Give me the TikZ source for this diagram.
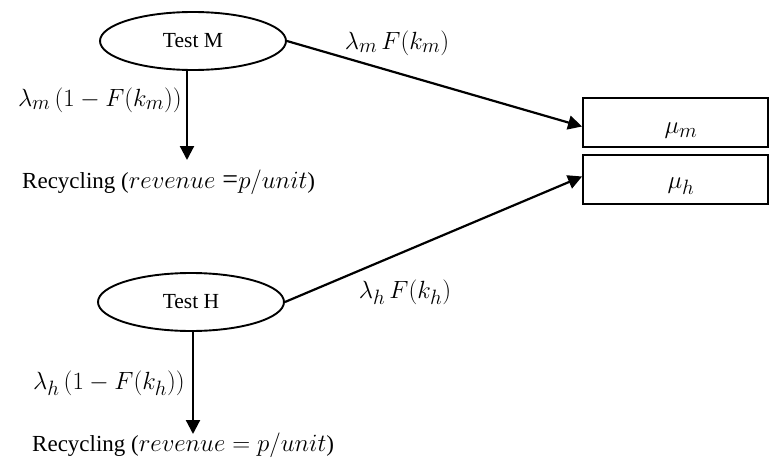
\documentclass[tikz,border=0pt]{standalone}
\usepackage{fontspec}
\setmainfont{Liberation Serif}
\usetikzlibrary{shapes.geometric,arrows.meta}
% math set a little larger than the surrounding text
\newcommand{\bigmath}[1]{{\fontsize{28}{30}\selectfont #1}}
\begin{document}
\begin{tikzpicture}[x=1pt,y=-1pt,
  test/.style={ellipse,draw,line width=1.9pt,minimum width=186pt,minimum height=58pt,inner sep=0pt,font=\fontsize{21.5}{24}\selectfont},
  server/.style={rectangle,draw,line width=1.9pt,minimum width=185pt,minimum height=49pt,inner sep=0pt},
  flow/.style={line width=2.2pt,-{Triangle[length=14pt,width=14pt]}},
  rate/.style={inner sep=0pt,font=\fontsize{28.5}{30}\selectfont},
  mu/.style={inner sep=0pt,font=\fontsize{28}{30}\selectfont},
  sink/.style={inner sep=0pt,font=\fontsize{23}{26}\selectfont}]
\useasboundingbox (0,0) rectangle (769,460);

% test stations
\node[test] (tm) at (193,41) {Test M};
\node[test] (th) at (191,302) {Test H};

% service boxes
\node[server] (bm) at (675.5,122.5) {};
\node[server] (bh) at (675.5,179.5) {};
\node[mu] at (681,131) {$\mu_m$};
\node[mu] at (681,186) {$\mu_h$};

% recycling outlets
\coordinate (am) at (187,160);
\coordinate (ah) at (193,434);
\node[sink,anchor=west] (rm) at (22,182) {Recycling (\bigmath{$revenue$ =$p/unit$})};
\node[sink,anchor=west] (rh) at (32,445) {Recycling (\bigmath{$revenue = p/unit$})};

% flows
\draw[flow] (tm.south -| am) -- (am);
\draw[flow] (th.south -| ah) -- (ah);
\draw[flow] (tm.east) -- ([yshift=-4pt]bm.west);
\draw[flow] (th.east) -- ([yshift=3pt]bh.west);

% rate labels
\node[rate,anchor=east] (lm) at (182,100) {$\lambda_m\,(1-F(k_m))$};
\node[rate,anchor=east] (lh) at (185,383) {$\lambda_h\,(1-F(k_h))$};
\node[rate] (fm) at (397,43) {$\lambda_m\,F(k_m)$};
\node[rate] (fh) at (405,292) {$\lambda_h\,F(k_h)$};
\end{tikzpicture}
\end{document}
